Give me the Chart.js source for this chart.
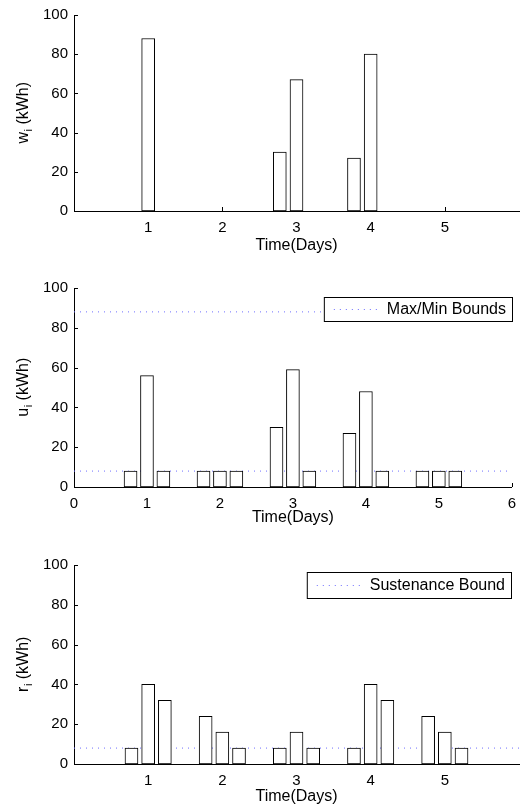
<!DOCTYPE html>
<html>
<head>
<meta charset="utf-8">
<script src="https://cdn.jsdelivr.net/npm/chart.js@4.4.0/dist/chart.umd.min.js"></script>
<style>
body{margin:0;background:#fff;width:524px;height:809px;position:relative;overflow:hidden}
canvas{position:absolute;left:0}
</style>
</head>
<body>
<canvas id="c1" width="524" height="270" style="top:0"></canvas>
<canvas id="c2" width="524" height="270" style="top:270px"></canvas>
<canvas id="c3" width="524" height="269" style="top:540px"></canvas>
<script>
// three slots per day
var days = [1, 2, 3, 4, 5];
var slotOffset = [-0.225, 0, 0.225];

var wVals = [0, 88, 0,   0, 0, 0,   30, 67, 0,   27, 80, 0,   0, 0, 0];
var uVals = [8, 56, 8,   8, 8, 8,   30, 59, 8,   27, 48, 8,   8, 8, 8];
var rVals = [8, 40, 32,  24, 16, 8,  8, 16, 8,   8, 40, 32,   24, 16, 8];

var maxBound = 88;
var minBound = 8;
var sustBound = 8;

var yTicks = [0, 20, 40, 60, 80, 100];
var xTicksDays = [1, 2, 3, 4, 5];
var xTicksFull = [0, 1, 2, 3, 4, 5, 6];

var FONT = '"Liberation Sans", Arial, Helvetica, sans-serif';
var boundColor = '#6f6fff';

function barPoints(vals){
	var pts = [];
	for (var d = 0; d < days.length; d++){
		for (var s = 0; s < slotOffset.length; s++){
			pts.push({x: days[d] + slotOffset[s], y: vals[d * slotOffset.length + s]});
		}
	}
	return pts;
}

function boundLine(label, val){
	return {
		type: 'line',
		label: label,
		data: [{x: 0, y: val}, {x: 6, y: val}],
		borderColor: boundColor,
		borderWidth: 1,
		borderDash: [1, 5],
		pointRadius: 0,
		fill: false,
		order: 2
	};
}

// tick marks inside, axis titles, boxed legend
var extras = {
	id: 'extras',
	beforeDatasetsDraw: function(chart){
		var ctx = chart.ctx, a = chart.chartArea;
		var xs = chart.scales.x, ys = chart.scales.y;
		ctx.save();
		ctx.strokeStyle = '#000';
		ctx.lineWidth = 1;
		ys.ticks.forEach(function(t){
			var y = Math.round(ys.getPixelForValue(t.value)) + 0.5;
			ctx.beginPath(); ctx.moveTo(a.left, y); ctx.lineTo(a.left + 4, y); ctx.stroke();
		});
		xs.ticks.forEach(function(t){
			var x = Math.round(xs.getPixelForValue(t.value)) + 0.5;
			ctx.beginPath(); ctx.moveTo(x, a.bottom); ctx.lineTo(x, a.bottom - 4); ctx.stroke();
		});
		ctx.restore();
	},
	afterDraw: function(chart, args, opts){
		var ctx = chart.ctx, a = chart.chartArea;
		ctx.save();
		ctx.fillStyle = '#000';
		ctx.font = '16px ' + FONT;
		ctx.textAlign = 'center';
		ctx.textBaseline = 'middle';
		ctx.fillText('Time(Days)', (a.left + a.right) / 2, a.bottom + opts.xTitleOff);

		// y title with subscript
		ctx.save();
		ctx.translate(22, (a.top + a.bottom) / 2);
		ctx.rotate(-Math.PI / 2);
		ctx.textAlign = 'left';
		ctx.textBaseline = 'alphabetic';
		var f1 = '16px ' + FONT, f2 = '11px ' + FONT;
		ctx.font = f1;
		var w1 = ctx.measureText(opts.ySym).width;
		var w3 = ctx.measureText(' (kWh)').width;
		ctx.font = f2;
		var w2 = ctx.measureText('i').width;
		var x0 = -(w1 + w2 + w3) / 2;
		ctx.font = f1; ctx.fillText(opts.ySym, x0, 6);
		ctx.font = f2; ctx.fillText('i', x0 + w1 + 0.5, 10);
		ctx.font = f1; ctx.fillText(' (kWh)', x0 + w1 + w2 + 0.5, 6);
		ctx.restore();

		if (opts.legend){
			var lab = chart.data.datasets[1].label;
			ctx.font = '16px ' + FONT;
			var tw = ctx.measureText(lab).width;
			var right = opts.legend.right, top = opts.legend.top, h = opts.legend.h;
			var tx = right - 6 - tw;
			var bx = tx - 63;
			ctx.fillStyle = '#fff';
			ctx.fillRect(bx, top, right - bx, h);
			ctx.strokeStyle = '#000';
			ctx.strokeRect(bx + 0.5, top + 0.5, right - bx, h);
			ctx.strokeStyle = boundColor;
			ctx.setLineDash([1, 5]);
			ctx.beginPath();
			ctx.moveTo(bx + 10, top + h / 2 + 0.5);
			ctx.lineTo(bx + 54, top + h / 2 + 0.5);
			ctx.stroke();
			ctx.setLineDash([]);
			ctx.fillStyle = '#000';
			ctx.textAlign = 'left';
			ctx.textBaseline = 'middle';
			ctx.fillText(lab, tx, top + h / 2 + 1);
		}
		ctx.restore();
	}
};

function makeChart(id, vals, lines, xTicks, pad, xH, ex){
	var datasets = [{
		type: 'bar',
		label: 'bars',
		data: barPoints(vals),
		backgroundColor: '#fff',
		borderColor: '#000',
		borderWidth: 1,
		borderSkipped: false,
		barThickness: 13,
		order: 1
	}].concat(lines);
	return new Chart(document.getElementById(id), {
		type: 'bar',
		data: {datasets: datasets},
		plugins: [extras],
		options: {
			responsive: false,
			animation: false,
			events: [],
			layout: {padding: {top: pad, right: 5, left: 0, bottom: 0}},
			plugins: {legend: {display: false}, tooltip: {enabled: false}, extras: ex},
			scales: {
				x: {
					type: 'linear', min: 0, max: 6, offset: false,
					grid: {display: false, drawTicks: false, offset: false},
					border: {display: true, color: '#000', width: 1},
					afterBuildTicks: function(s){ s.ticks = xTicks.map(function(v){ return {value: v}; }); },
					afterFit: function(s){ s.height = xH; },
					ticks: {color: '#000', font: {family: FONT, size: 15}, padding: 8, maxRotation: 0}
				},
				y: {
					min: 0, max: 100,
					grid: {display: false, drawTicks: false},
					border: {display: true, color: '#000', width: 1},
					afterBuildTicks: function(s){ s.ticks = yTicks.map(function(v){ return {value: v}; }); },
					afterFit: function(s){ s.width = 74; },
					ticks: {color: '#000', font: {family: FONT, size: 15}, padding: 6}
				}
			}
		}
	});
}

makeChart('c1', wVals, [], xTicksDays, 13, 59, {ySym: 'w', xTitleOff: 35});
makeChart('c2', uVals, [boundLine('Max/Min Bounds', maxBound), boundLine('', minBound)], xTicksFull, 18, 53,
	{ySym: 'u', xTitleOff: 31, legend: {right: 512, top: 27, h: 24}});
makeChart('c3', rVals, [boundLine('Sustenance Bound', sustBound)], xTicksDays, 25, 45,
	{ySym: 'r', xTitleOff: 33, legend: {right: 511, top: 32, h: 26}});
</script>
</body>
</html>
